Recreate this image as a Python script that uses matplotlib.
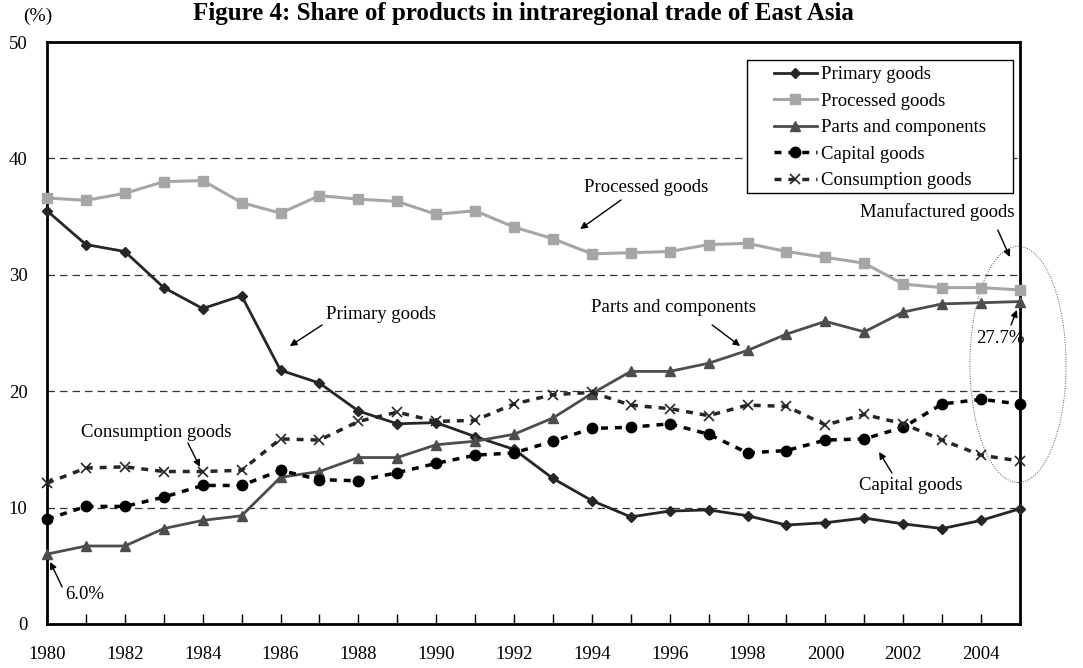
import matplotlib.pyplot as plt
from matplotlib.patches import Ellipse, Rectangle

years = list(range(1980, 2006))
primary = [35.5, 32.6, 32.0, 28.9, 27.1, 28.2, 21.8, 20.7, 18.3, 17.2, 17.3, 16.1, 15.0,
           12.5, 10.6, 9.2, 9.7, 9.8, 9.3, 8.5, 8.7, 9.1, 8.6, 8.2, 8.9, 9.9]
processed = [36.6, 36.4, 37.0, 38.0, 38.1, 36.2, 35.3, 36.8, 36.5, 36.3, 35.2, 35.5, 34.1,
             33.1, 31.8, 31.9, 32.0, 32.6, 32.7, 32.0, 31.5, 31.0, 29.2, 28.9, 28.9, 28.7]
parts = [6.0, 6.7, 6.7, 8.2, 8.9, 9.3, 12.6, 13.1, 14.3, 14.3, 15.4, 15.7, 16.3,
         17.7, 19.8, 21.7, 21.7, 22.4, 23.5, 24.9, 26.0, 25.1, 26.8, 27.5, 27.6, 27.7]
capital = [9.0, 10.1, 10.1, 10.9, 11.9, 11.9, 13.2, 12.4, 12.3, 13.0, 13.8, 14.5, 14.7,
           15.7, 16.8, 16.9, 17.2, 16.3, 14.7, 14.9, 15.8, 15.9, 16.9, 18.9, 19.3, 18.9]
consumption = [12.1, 13.4, 13.5, 13.1, 13.1, 13.2, 15.9, 15.8, 17.4, 18.2, 17.4, 17.5, 18.9,
               19.7, 19.9, 18.8, 18.5, 17.9, 18.8, 18.7, 17.1, 18.0, 17.2, 15.8, 14.5, 14.0]

plt.rcParams['font.family'] = ['Liberation Serif', 'DejaVu Serif']
plt.rcParams['font.size'] = 13.5

fig = plt.figure(figsize=(10.83, 6.68), dpi=100)
ax = fig.add_axes([0.0434, 0.0659, 0.8984, 0.8712])

ax.plot(years, primary, color='#262626', lw=2, marker='D', ms=5, label='Primary goods', clip_on=False, zorder=5)
ax.plot(years, processed, color='#a6a6a6', lw=2.2, marker='s', ms=7, label='Processed goods', clip_on=False, zorder=4)
ax.plot(years, parts, color='#4d4d4d', lw=2, marker='^', ms=7, label='Parts and components', clip_on=False, zorder=5)
ax.plot(years, capital, color='black', lw=2.5, ls=(0, (2, 2)), marker='o', ms=7.5,
        label='Capital goods', clip_on=False, zorder=5)
ax.plot(years, consumption, color='#262626', lw=2.5, ls=(0, (2, 2)), marker='x', ms=7, mew=1.2,
        label='Consumption goods', clip_on=False, zorder=5)

ax.set_xlim(1980, 2005)
ax.set_ylim(0, 50)
ax.set_xticks(years)
ax.set_xticklabels([str(y) if y % 2 == 0 else '' for y in years])
ax.set_yticks([0, 10, 20, 30, 40, 50])
ax.tick_params(axis='x', direction='in', length=7, width=1, pad=16, labelsize=13.5)
ax.tick_params(axis='y', length=0, pad=14, labelsize=13.5)
for s in ax.spines.values():
    s.set_linewidth(2)
for v in [10, 20, 30, 40]:
    ax.axhline(v, color='#333333', lw=0.9, ls=(0, (6, 4)), zorder=1)

# legend with its own frame
ax.add_patch(Rectangle((0.7194, 0.7405), 0.2734, 0.2285, transform=ax.transAxes,
                       fill=True, facecolor='white', edgecolor='black', lw=1, zorder=6))
leg = ax.legend(loc='center', bbox_to_anchor=(0.856, 0.853), frameon=False,
                handlelength=2.3, handletextpad=0.2, labelspacing=0.5, fontsize=13.5)
leg.set_zorder(7)

arrow = dict(arrowstyle='-|>', color='black', lw=1, mutation_scale=10, shrinkA=0, shrinkB=0)
notes = [
    ('Processed goods', (1995.40, 37.46), (1994.75, 36.43), (1993.70, 33.93)),
    ('Primary goods', (1988.58, 26.55), (1987.07, 25.69), (1986.24, 23.88)),
    ('Parts and components', (1996.10, 27.23), (1997.09, 25.69), (1997.81, 23.88)),
    ('Manufactured goods', (2002.87, 35.40), (2004.43, 33.85), (2004.74, 31.53)),
    ('27.7%', (2004.49, 24.57), (2004.77, 25.69), (2004.92, 26.98)),
    ('Consumption goods', (1982.80, 16.49), (1983.62, 15.55), (1983.93, 13.49)),
    ('Capital goods', (2002.20, 11.86), (2001.71, 12.97), (2001.38, 14.78)),
    ('6.0%', (1980.98, 2.49), (1980.39, 3.18), (1980.08, 5.33)),
]
for txt, pos, tail, head in notes:
    ax.text(pos[0], pos[1], txt, ha='center', va='center', fontsize=13.5, zorder=8)
    ax.annotate('', xy=head, xytext=tail, arrowprops=arrow, annotation_clip=False, zorder=8)

ax.add_patch(Ellipse((2004.95, 22.3), 2.47, 20.3, fill=False, edgecolor='#555555',
                     lw=0.7, ls=(0, (1, 1.5)), clip_on=False, zorder=3))

fig.text(0.483, 0.980, 'Figure 4: Share of products in intraregional trade of East Asia',
         ha='center', va='center', fontsize=18, fontweight='bold')
fig.text(0.035, 0.976, '(%)', ha='center', va='center', fontsize=14)

fig.savefig('out.png', dpi=100)
